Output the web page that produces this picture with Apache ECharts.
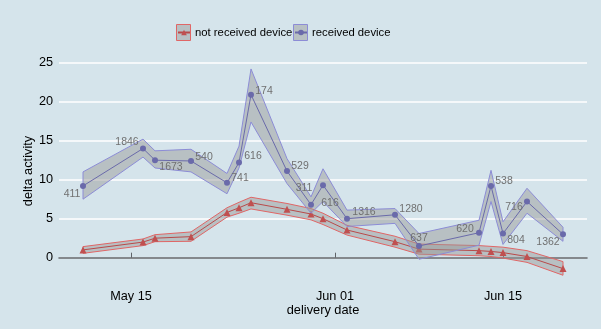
<!DOCTYPE html>
<html><head><meta charset="utf-8">
<script src="https://cdn.jsdelivr.net/npm/echarts@6/dist/echarts.min.js"></script>
<style>html,body{margin:0;padding:0;background:#d5e4eb}#c{width:601px;height:329px}</style>
</head><body><div id="c"></div>
<script>
// ---- data ----
const dates = ['2020-05-11','2020-05-16','2020-05-17','2020-05-20','2020-05-23','2020-05-24','2020-05-25','2020-05-28','2020-05-30','2020-05-31','2020-06-02','2020-06-06','2020-06-08','2020-06-13','2020-06-14','2020-06-15','2020-06-17','2020-06-20'];
const recvMean = [9.2,14.0,12.5,12.4,9.6,12.2,20.9,11.1,6.8,9.3,5.0,5.5,1.5,3.2,9.2,3.1,7.2,3.0];
const recvLow  = [7.5,12.9,11.5,11.0,8.2,11.5,17.4,9.5,5.7,7.2,4.0,4.4,-0.2,1.6,7.2,1.7,5.7,2.1];
const recvHigh = [11.0,15.2,13.7,13.9,10.8,14.3,24.2,12.7,7.8,11.4,6.1,6.3,3.1,4.8,11.2,4.6,8.9,3.9];
const recvN    = [411,1846,1673,540,741,616,174,529,311,616,1316,1280,637,620,538,804,716,1362];
const notMean  = [1.0,2.0,2.5,2.7,5.8,6.4,7.05,6.2,5.6,5.0,3.55,2.05,1.1,0.9,0.8,0.65,0.15,-1.4];
const notLow   = [0.56,1.55,2.05,2.1,5.2,5.7,6.25,5.45,4.85,4.25,2.9,1.35,0.45,0.25,0.15,-0.05,-0.6,-2.25];
const notHigh  = [1.42,2.4,2.95,3.3,6.4,7.1,7.75,6.95,6.3,5.7,4.15,2.75,1.75,1.55,1.45,1.35,0.9,-0.5];
const xTicks   = ['2020-05-15','2020-06-01','2020-06-15'];
const xTickLabels = ['May 15','Jun 01','Jun 15'];
const yTicks   = [0,5,10,15,20,25];
const xRange   = ['2020-05-09','2020-06-22'];

// label offsets (layout only)
const labelOffsets = [[-11,8],[-16,-6],[16,7],[13,-4],[13,-5],[14,-6],[13,-4],[13,-5],[-7,-17],[7,18],[17,-7],[16,-6],[0,-8],[-14,-4],[13,-5],[13,7],[-13,6],[-15,8]];

const day = s => Math.round(Date.parse(s + 'T00:00:00Z') / 86400000);
const xs = dates.map(day);
const FONT = 'Liberation Sans, Arial, Helvetica, sans-serif';
const BAND_FILL = 'rgba(151,151,151,0.47)';

function band(name, lo, hi, border, z) {
  return {
    type: 'custom', name: name, silent: true, z: z,
    data: xs.map((x, i) => [x, lo[i], hi[i]]),
    encode: { x: 0, y: [1, 2] },
    renderItem: function (params, api) {
      if (params.dataIndex !== 0) return null;
      const pts = [];
      for (let i = 0; i < xs.length; i++) pts.push(api.coord([xs[i], hi[i]]));
      for (let i = xs.length - 1; i >= 0; i--) pts.push(api.coord([xs[i], lo[i]]));
      return { type: 'polygon', shape: { points: pts }, style: { fill: BAND_FILL, stroke: border, lineWidth: 1 } };
    }
  };
}

const chart = echarts.init(document.getElementById('c'));
chart.setOption({
  backgroundColor: '#d5e4eb',
  animation: false,
  textStyle: { fontFamily: FONT },
  grid: { left: 59, right: 14, top: 56, bottom: 43 },
  legend: [
    { data: ['not received device'], left: 177, top: 27, padding: 0, itemWidth: 12, itemHeight: 7, z: 10,
      textStyle: { fontSize: 11.3, color: '#000', fontFamily: FONT } },
    { data: ['received device'], left: 294, top: 27, padding: 0, itemWidth: 12, itemHeight: 7, z: 10,
      textStyle: { fontSize: 11.3, color: '#000', fontFamily: FONT } }
  ],
  graphic: [
    { type: 'rect', z: 1, shape: { x: 176.5, y: 24.5, width: 14, height: 16 }, style: { fill: BAND_FILL, stroke: '#e06666', lineWidth: 1 } },
    { type: 'rect', z: 1, shape: { x: 293.5, y: 24.5, width: 14, height: 16 }, style: { fill: BAND_FILL, stroke: '#8c8cd6', lineWidth: 1 } }
  ],
  xAxis: {
    type: 'value', min: day(xRange[0]), max: day(xRange[1]),
    name: 'delivery date', nameLocation: 'middle', nameGap: 18, nameMoveOverlap: false,
    nameTextStyle: { fontSize: 12.8, color: '#000', fontFamily: FONT },
    axisLine: { show: true, lineStyle: { color: '#5f6368', width: 1.5 } },
    axisTick: { show: true, inside: true, length: 5, customValues: xTicks.map(day), lineStyle: { color: '#5f6368', width: 1 } },
    axisLabel: { customValues: xTicks.map(day), margin: 4, fontSize: 12.7, color: '#000', fontFamily: FONT,
      formatter: v => xTickLabels[xTicks.map(day).indexOf(v)] || '' },
    splitLine: { show: false }
  },
  yAxis: {
    type: 'value', min: -3.63, max: 25.86,
    name: 'delta activity', nameLocation: 'middle', nameGap: 24, nameMoveOverlap: false,
    nameTextStyle: { fontSize: 12.8, color: '#000', fontFamily: FONT },
    axisLine: { show: false },
    axisTick: { show: false, customValues: yTicks },
    axisLabel: { customValues: yTicks, margin: 6, fontSize: 12.7, color: '#000', fontFamily: FONT },
    splitLine: { show: true, lineStyle: { color: '#ffffff', width: 1.5 } }
  },
  series: [
    band('not received device CI', notLow, notHigh, '#e06666', 2),
    {
      type: 'line', name: 'not received device', z: 3,
      data: xs.map((x, i) => [x, notMean[i]]),
      symbol: 'triangle', symbolSize: 7,
      lineStyle: { color: '#b84a4a', width: 1 },
      itemStyle: { color: '#c05050' }
    },
    band('received device CI', recvLow, recvHigh, '#8c8cd6', 4),
    {
      type: 'line', name: 'received device', z: 5,
      data: xs.map((x, i) => ({
        value: [x, recvMean[i]],
        label: { show: true, formatter: String(recvN[i]), offset: labelOffsets[i] }
      })),
      symbol: 'circle', symbolSize: 6,
      lineStyle: { color: '#6a6aaa', width: 1 },
      itemStyle: { color: '#6a6aaa' },
      label: { position: 'inside', color: '#707070', fontSize: 10.5, fontFamily: FONT }
    }
  ]
});
</script></body></html>
